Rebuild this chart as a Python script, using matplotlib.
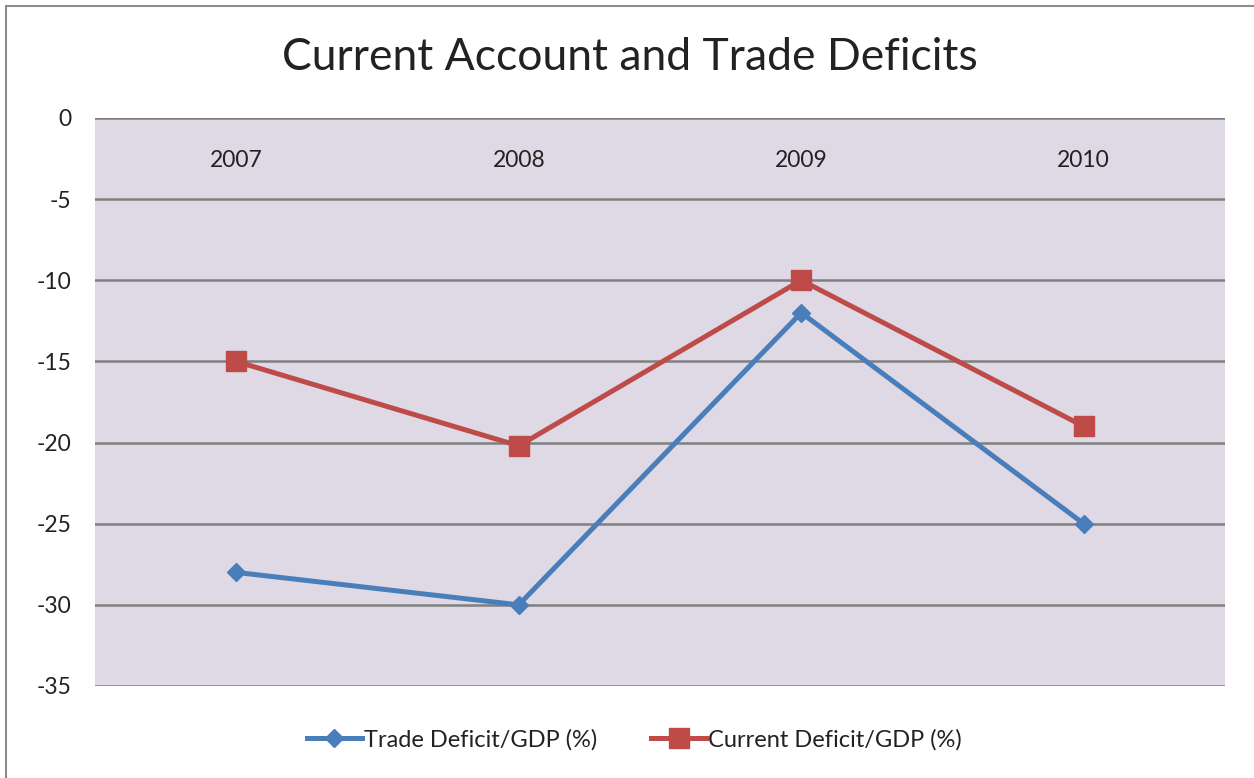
import matplotlib.pyplot as plt
from matplotlib.patches import Rectangle

years = ['2007', '2008', '2009', '2010']
trade_deficit = [-28, -30, -12, -25]
current_deficit = [-15, -20.2, -10, -19]
y_ticks = [0, -5, -10, -15, -20, -25, -30, -35]

plt.rcParams['font.family'] = ['Lato', 'DejaVu Sans']

fig = plt.figure(figsize=(12.54, 7.78), dpi=100)
# outer frame of the chart object
fig.patches.append(Rectangle((6 / 1254, -0.1), 1.2, 1.1 - 6 / 778,
                             transform=fig.transFigure, fill=False,
                             edgecolor='#8c8c8c', linewidth=1.5))

ax = fig.add_axes([95 / 1254, 1 - 686 / 778, 1130 / 1254, 568 / 778])
ax.set_facecolor('#DED9E5')
for s in ax.spines.values():
    s.set_visible(False)

x = range(len(years))
ax.plot(x, trade_deficit, color='#4A7EBB', lw=3.6, marker='D', ms=9.5,
        label='Trade Deficit/GDP (%)', zorder=3)
ax.plot(x, current_deficit, color='#BE4B48', lw=3.6, marker='s', ms=14,
        label='Current Deficit/GDP (%)', zorder=3)

ax.set_xlim(-0.5, len(years) - 0.5)
ax.set_ylim(-35, 0)
ax.set_yticks(y_ticks)
ax.set_yticklabels([str(v) for v in y_ticks])
ax.tick_params(axis='y', length=0, pad=17, labelsize=16.5, labelcolor='#222222')
ax.set_xticks([])
ax.grid(axis='y', color='#7f7f7f', lw=1.8, zorder=1)
ax.set_axisbelow(True)

# category labels sit inside the plot, just below the zero line
for i, yr in enumerate(years):
    ax.text(i, -2.6, yr, ha='center', va='center', fontsize=16.5, color='#222222')

fig.text(0.502, 1 - 57 / 778, 'Current Account and Trade Deficits',
         ha='center', va='center', fontsize=32, color='#222222')

fig.legend(loc='center', bbox_to_anchor=(0.506, 1 - 740 / 778), ncol=2,
           frameon=False, fontsize=17, handlelength=2.3, columnspacing=2.3,
           handletextpad=0.1, labelcolor='#222222')

fig.savefig('out.png', dpi=100)
